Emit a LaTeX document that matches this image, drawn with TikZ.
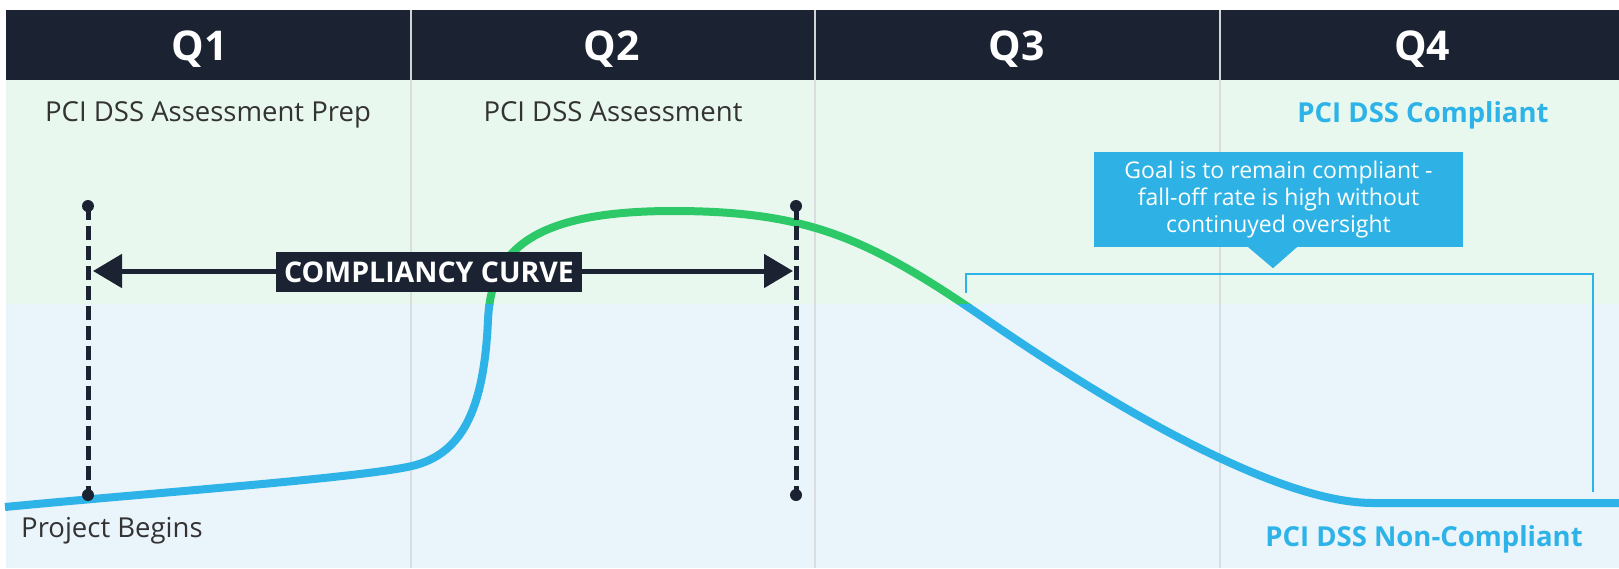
\documentclass[tikz,border=0pt]{standalone}
\usepackage{fontspec}
\setmainfont{Open Sans}
\usetikzlibrary{arrows.meta}

\definecolor{hdr}{HTML}{1B2232}
\definecolor{bggreen}{HTML}{E9F8EF}
\definecolor{bgblue}{HTML}{EAF4FB}
\definecolor{cblue}{HTML}{2DB3E7}
\definecolor{cgreen}{HTML}{2DC868}
\definecolor{calloutblue}{HTML}{2EB2E5}
\definecolor{divgray}{HTML}{DADDDF}
\definecolor{txtgray}{HTML}{333333}

\begin{document}
\begin{tikzpicture}[x=1pt,y=-1pt,
  qlabel/.style={text=white, font=\fontsize{41}{48}\selectfont\bfseries, anchor=base, inner sep=0},
  phase/.style={text=txtgray, font=\fontsize{27.5}{32}\selectfont, anchor=base, inner sep=0},
  status/.style={text=cblue, font=\fontsize{27.5}{32}\selectfont\bfseries, anchor=base, inner sep=0},
  marker/.style={draw=hdr, line width=5pt, dash pattern=on 14pt off 6pt},
  markdot/.style={circle, fill=hdr, inner sep=0, minimum size=12pt},
  span/.style={draw=hdr, line width=5pt, {Triangle[length=29pt,width=33pt]}-{Triangle[length=29pt,width=33pt]}},
  curvebox/.style={fill=hdr, text=white, font=\fontsize{28.5}{32}\selectfont\bfseries, minimum width=306pt, minimum height=40pt, inner sep=0},
  calloutbox/.style={fill=calloutblue, text=white, minimum width=369pt, minimum height=95pt, inner sep=0, align=center, font=\fontsize{23}{27}\selectfont},
  curveline/.style={line width=8pt},
]
\useasboundingbox (0,0) rectangle (1619,568);

% page and quarter bands
\fill[white] (0,0) rectangle (1619,568);
\fill[bggreen] (6,80) rectangle (1619,304);
\fill[bgblue] (6,304) rectangle (1619,568);
\fill[hdr] (6,10) rectangle (1619,80);

% quarter separators
\foreach \xd in {411,815,1220} {
  \draw[divgray, line width=2pt] (\xd,80) -- (\xd,568);
  \draw[white!80!hdr, line width=2pt] (\xd,10) -- (\xd,80);
}

% compliance curve: green while compliant, blue below
\path[save path=\comppath]
  (5,507) .. controls (150,493) and (360,478) .. (412,466)
  .. controls (462,454) and (484,410) .. (488,320)
  .. controls (491,255) and (525,211) .. (673,211)
  .. controls (810,211) and (870,239) .. (990,322)
  .. controls (1060,370) and (1260,503) .. (1373,503)
  -- (1619,503);
\begin{scope}
  \clip (0,0) rectangle (1619,304);
  \draw[cgreen, curveline, use path=\comppath];
\end{scope}
\begin{scope}
  \clip (0,304) rectangle (1619,568);
  \draw[cblue, curveline, use path=\comppath];
\end{scope}

% dashed markers bounding the compliancy curve
\coordinate (m1t) at (88,206);
\coordinate (m1b) at (88,495);
\coordinate (m2t) at (796,206);
\coordinate (m2b) at (796,495);
\draw[marker] (m1t) -- (m1b);
\draw[marker] (m2t) -- (m2b);
\foreach \m in {m1t,m1b,m2t,m2b} \node[markdot] at (\m) {};

% span arrow and its label
\coordinate (a1) at (93,271);
\coordinate (a2) at (793,271);
\draw[span] (a1) -- (a2);
\node[curvebox] (cc) at (429,272) {COMPLIANCY CURVE};

% callout with pointer
\node[calloutbox] (goal) at (1278.5,199.5)
  {Goal is to remain compliant -\\fall-off rate is high without\\continuyed oversight};
\fill[calloutblue] ([xshift=-31.5pt,yshift=1pt]goal.south) -- ([xshift=19.5pt,yshift=1pt]goal.south)
  -- ([xshift=-5.5pt,yshift=-21pt]goal.south) -- cycle;

% bracket over the fall-off period
\coordinate (brA) at (966,293);
\coordinate (brB) at (1593,492);
\draw[cblue, line width=2.5pt] (brA) -- (brA |- 0,274) -- (brB |- 0,274) -- (brB);

% quarter headings
\node[qlabel] (q1) at (200,60) {Q1};
\node[qlabel] (q2) at (612,60) {Q2};
\node[qlabel] (q3) at (1017,60) {Q3};
\node[qlabel] (q4) at (1422,60) {Q4};

% phase and status labels
\node[phase] (p1) at (208,121) {PCI DSS Assessment Prep};
\node[phase] (p2) at (613,121) {PCI DSS Assessment};
\node[status] (ok) at (1423,122) {PCI DSS Compliant};
\node[status] (nok) at (1424,546) {PCI DSS Non-Compliant};
\node[phase, anchor=base west] (start) at (21,537) {Project Begins};
\end{tikzpicture}
\end{document}
